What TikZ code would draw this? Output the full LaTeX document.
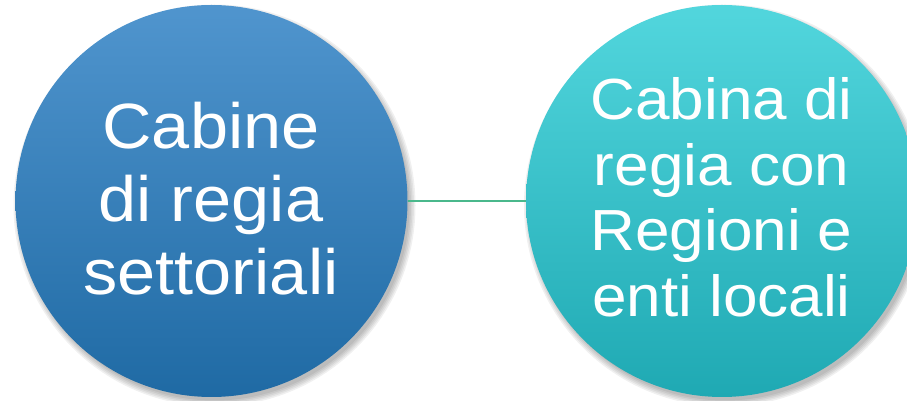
\documentclass[tikz,border=0pt]{standalone}
\usepackage{fontspec}
\setmainfont{Liberation Sans}[FakeStretch=1.07]
\definecolor{ltop}{RGB}{80,149,206}
\definecolor{lbot}{RGB}{31,106,164}
\definecolor{rtop}{RGB}{82,214,221}
\definecolor{rbot}{RGB}{31,169,179}
\definecolor{conn}{RGB}{74,184,140}
\tikzset{
  bubble/.style={circle, minimum size=392pt, inner sep=0pt, draw=none},
  shade1/.style={circle, minimum size=#1, inner sep=0pt, fill=black, fill opacity=0.06, draw=none},
  label/.style={text=white, align=center, inner sep=0pt},
  connector/.style={draw=conn, line width=2.5pt}
}
\begin{document}
\begin{tikzpicture}[x=1pt,y=1pt]
\useasboundingbox (0,0) rectangle (907,401);
\clip (0,0) rectangle (907,401);
% shadows
\foreach \s in {390,393,396,399,402}{
  \node[shade1=\s pt] at (214.5,195.5) {};
  \node[shade1=\s pt] at (725,195.5) {};
}
\node[bubble, top color=ltop, bottom color=lbot] (L) at (211.5,200) {};
\node[bubble, top color=rtop, bottom color=rbot] (R) at (722,200) {};
\draw[connector] (L.east) -- (R.west);
\node[label, font=\fontsize{64}{73}\selectfont] (Lt) at (211,202.5) {Cabine\\di regia\\settoriali};
\node[label, font=\fontsize{58}{65.5}\selectfont] (Rt) at (721.5,203.5) {Cabina di\\regia con\\Regioni e\\enti locali};
\end{tikzpicture}
\end{document}
